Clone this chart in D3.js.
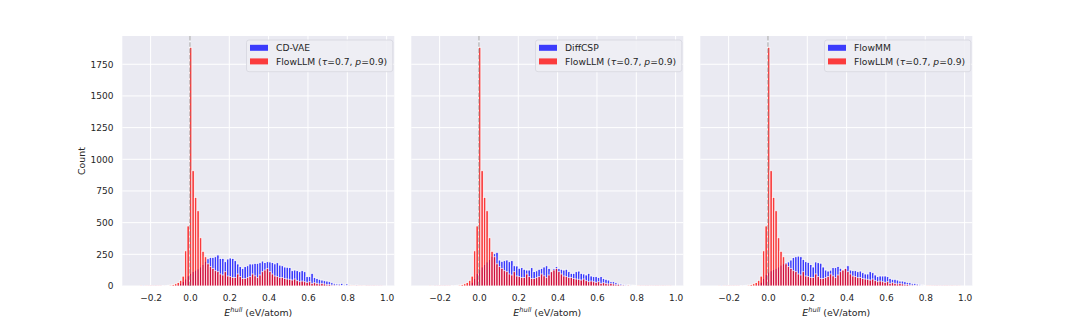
<!DOCTYPE html>
<meta charset="UTF-8">
<style>
    body { margin: 0; background: #fff; }
    text { font-family: "DejaVu Sans", sans-serif; fill: #262626; }
</style>

<body>

<script src="https://d3js.org/d3.v7.min.js"></script>
<script>

// histogram bins, shared by all three panels
var binStart = -0.28,
    binWidth = 0.0126;

// FlowLLM (tau=0.7, p=0.9) counts per bin, drawn in red in every panel
var flowllmCounts = [
    0, 0, 1, 0, 1, 1, 2, 1, 2, 3,
    3, 4, 5, 6, 8, 12, 18, 28, 45, 78,
    278, 474, 1884, 910, 700, 594, 381, 274, 231, 175,
    153, 139, 121, 113, 95, 87, 113, 79, 74, 68,
    68, 95, 74, 60, 60, 66, 74, 95, 80, 66,
    87, 113, 126, 139, 113, 95, 79, 74, 66, 68,
    60, 55, 53, 47, 55, 42, 34, 39, 34, 29,
    34, 21, 26, 21, 16, 21, 16, 10, 13, 8,
    8, 6, 8, 5, 6, 4, 3, 2, 3, 2,
    2, 3, 1, 2, 2, 1, 2, 1, 1, 1];

// baseline models, drawn in blue
var cdvaeCounts = [
    0, 0, 0, 1, 0, 1, 1, 1, 2, 2,
    2, 3, 3, 4, 4, 5, 8, 12, 20, 35,
    55, 80, 100, 115, 125, 135, 150, 170, 195, 215,
    226, 226, 231, 245, 218, 218, 192, 213, 221, 218,
    200, 174, 153, 139, 153, 160, 174, 174, 179, 179,
    184, 197, 185, 192, 190, 185, 175, 184, 165, 160,
    150, 148, 145, 121, 126, 121, 113, 121, 113, 74,
    74, 100, 68, 60, 53, 47, 42, 39, 34, 26,
    21, 16, 16, 21, 13, 16, 8, 6, 5, 8,
    4, 3, 4, 2, 3, 2, 2, 1, 2, 1];

var diffcspCounts = [
    0, 0, 0, 0, 1, 1, 1, 1, 2, 2,
    2, 2, 3, 3, 4, 5, 6, 8, 15, 30,
    60, 100, 130, 150, 170, 190, 210, 235, 255, 266,
    205, 195, 200, 205, 192, 200, 160, 158, 140, 145,
    132, 126, 126, 145, 115, 120, 132, 139, 150, 160,
    139, 113, 139, 153, 139, 132, 126, 132, 113, 100,
    100, 113, 118, 100, 95, 87, 100, 79, 74, 74,
    68, 74, 60, 53, 47, 34, 34, 26, 21, 16,
    13, 10, 8, 8, 6, 5, 4, 3, 3, 2,
    2, 2, 1, 2, 1, 1, 1, 1, 0, 1];

var flowmmCounts = [
    0, 0, 0, 1, 0, 1, 1, 1, 1, 2,
    2, 2, 3, 3, 4, 5, 6, 8, 15, 30,
    60, 90, 110, 120, 130, 140, 150, 165, 175, 185,
    190, 205, 225, 231, 236, 231, 210, 192, 187, 170,
    150, 190, 184, 180, 150, 126, 118, 125, 145, 145,
    155, 140, 125, 140, 160, 126, 121, 121, 113, 118,
    105, 95, 95, 113, 105, 87, 74, 79, 79, 79,
    74, 60, 53, 53, 47, 39, 39, 34, 29, 26,
    21, 21, 16, 13, 8, 6, 5, 4, 3, 3,
    2, 2, 2, 1, 1, 1, 1, 0, 1, 0];

var panelNames = ["CD-VAE", "DiffCSP", "FlowMM"];
var panelCounts = [cdvaeCounts, diffcspCounts, flowmmCounts];

var xTicks = [-0.2, 0.0, 0.2, 0.4, 0.6, 0.8, 1.0];
var yTicks = [0, 250, 500, 750, 1000, 1250, 1500, 1750];

// figure geometry
var width = 1080, height = 324,
    plotTop = 36, plotH = 250, plotW = 272,
    firstLeft = 122.3, step = 289;

var svg = d3.select("body").append("svg")
    .attr("width", width)
    .attr("height", height);

var x = d3.scaleLinear().domain([-0.344, 1.039]).range([0, plotW]);
var y = d3.scaleLinear().domain([0, 1973]).range([plotH, 0]);

var edges = d3.range(flowllmCounts.length + 1).map(function(i) {
    return binStart + i * binWidth;
});

function drawBars(g, counts, color) {
    var data = counts.map(function(c, i) { return {x0: edges[i], x1: edges[i + 1], c: c}; })
        .filter(function(d) { return d.c > 0; });
    g.append("g").selectAll("rect")
        .data(data)
        .enter().append("rect")
        .attr("x", function(d) { return x(d.x0); })
        .attr("width", function(d) { return x(d.x1) - x(d.x0); })
        .attr("y", function(d) { return y(d.c); })
        .attr("height", function(d) { return y(0) - y(d.c); })
        .attr("fill", color)
        .attr("stroke", "#fff")
        .attr("stroke-width", 0.85)
        .attr("opacity", 0.75);
}

panelNames.forEach(function(name, k) {
    var g = svg.append("g")
        .attr("transform", "translate(" + (firstLeft + k * step) + "," + plotTop + ")");

    g.append("rect")
        .attr("width", plotW)
        .attr("height", plotH)
        .attr("fill", "#eaeaf2");

    // grid
    g.selectAll("line.gx").data(xTicks).enter().append("line")
        .attr("class", "gx")
        .attr("x1", function(d) { return x(d); })
        .attr("x2", function(d) { return x(d); })
        .attr("y1", 0).attr("y2", plotH)
        .attr("stroke", "#fff").attr("stroke-width", 1);
    g.selectAll("line.gy").data(yTicks).enter().append("line")
        .attr("class", "gy")
        .attr("x1", 0).attr("x2", plotW)
        .attr("y1", function(d) { return y(d); })
        .attr("y2", function(d) { return y(d); })
        .attr("stroke", "#fff").attr("stroke-width", 1);

    drawBars(g, panelCounts[k], "#0000ff");
    drawBars(g, flowllmCounts, "#ff0000");

    // dashed marker at E_hull = 0
    g.append("line")
        .attr("x1", x(0)).attr("x2", x(0))
        .attr("y1", 0).attr("y2", plotH)
        .attr("stroke", "#808080")
        .attr("stroke-width", 1.2)
        .attr("stroke-dasharray", "4.4,1.9")
        .attr("opacity", 0.6);

    // x axis labels
    var xa = g.append("g")
        .attr("transform", "translate(0," + plotH + ")")
        .call(d3.axisBottom(x).tickValues(xTicks).tickSize(0).tickPadding(8.5)
            .tickFormat(d3.format(".1f")));
    xa.select(".domain").remove();
    xa.selectAll("text").attr("font-size", 9).attr("font-family", "DejaVu Sans").attr("fill", "#262626");

    var xl = g.append("text")
        .attr("x", plotW / 2)
        .attr("y", plotH + 30)
        .attr("text-anchor", "middle")
        .attr("font-size", 9.4);
    xl.append("tspan").attr("font-style", "italic").text("E");
    xl.append("tspan").attr("font-style", "italic").attr("font-size", 6.6).attr("dy", -3.8).text("hull");
    xl.append("tspan").attr("dy", 3.8).text(" (eV/atom)");

    if (k === 0) {
        var ya = g.append("g")
            .call(d3.axisLeft(y).tickValues(yTicks).tickSize(0).tickPadding(8.8)
                .tickFormat(d3.format("d")));
        ya.select(".domain").remove();
        ya.selectAll("text").attr("font-size", 9).attr("font-family", "DejaVu Sans").attr("fill", "#262626");

        g.append("text")
            .attr("transform", "translate(-37," + (plotH / 2) + ") rotate(-90)")
            .attr("text-anchor", "middle")
            .attr("font-size", 9.4)
            .text("Count");
    }

    // legend
    var lw = 146.3, lh = 31.7;
    var lg = g.append("g").attr("transform", "translate(" + (plotW - 1.5 - lw) + ",4)");
    lg.append("rect")
        .attr("width", lw).attr("height", lh)
        .attr("rx", 2.5)
        .attr("fill", "#eeeef4")
        .attr("fill-opacity", 0.9)
        .attr("stroke", "#d6d6de")
        .attr("stroke-width", 0.8);

    var rows = [{color: "#0000ff", label: name}, {color: "#ff0000", label: null}];
    rows.forEach(function(r, j) {
        var cy = 7.7 + j * 13.6;
        lg.append("rect")
            .attr("x", 3.5).attr("y", cy - 2.9)
            .attr("width", 18).attr("height", 6)
            .attr("fill", r.color)
            .attr("opacity", 0.75);
        var t = lg.append("text")
            .attr("x", 29.5)
            .attr("y", cy + 3.3)
            .attr("font-size", 9.2);
        if (r.label) {
            t.text(r.label);
        } else {
            t.append("tspan").text("FlowLLM (");
            t.append("tspan").attr("font-style", "italic").text("τ");
            t.append("tspan").text("=0.7, ");
            t.append("tspan").attr("font-style", "italic").text("p");
            t.append("tspan").text("=0.9)");
        }
    });
});

</script>
</body>
